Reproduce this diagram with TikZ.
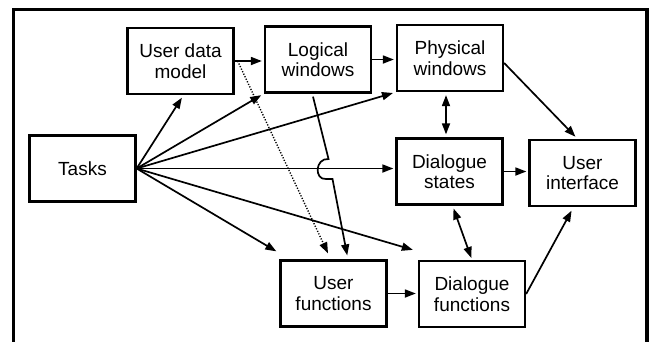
\documentclass[tikz,border=0pt]{standalone}
\usepackage{fontspec}
\setmainfont{Liberation Sans}
\usetikzlibrary{arrows.meta,calc}
\begin{document}
\begin{tikzpicture}[x=1pt,y=-1pt,
  box/.style={draw,line width=2.3pt,minimum width=106pt,minimum height=66pt,inner sep=0pt,align=center,font=\fontsize{19}{20.5}\selectfont},
  conn/.style={line width=1.7pt,-{Triangle[length=11pt,width=8pt]}},
  biconn/.style={line width=1.7pt,{Triangle[length=11pt,width=8pt]}-{Triangle[length=11pt,width=8pt]}},
  dotconn/.style={line width=1.4pt,dash pattern=on 1.2pt off 1.6pt,-{Triangle[length=11pt,width=8pt]}}]
\useasboundingbox (0,0) rectangle (654,341);
\draw[line width=3.3pt] (13.5,345) -- (13.5,9.5) -- (647,9.5) -- (647,345);
\node[box] (udm) at (180.5,61) {User data\\model};
\node[box] (lw) at (318,59.5) {Logical\\windows};
\node[box] (pw) at (450,58) {Physical\\windows};
\node[box] (tasks) at (82.5,168.5) {Tasks};
\node[box] (ds) at (449.5,171.5) {Dialogue\\states};
\node[box] (ui) at (582.5,173) {User\\interface};
\node[box] (uf) at (333.5,293.5) {User\\functions};
\node[box] (df) at (472,294) {Dialogue\\functions};
% from Tasks
\draw[conn,shorten >=3pt] (tasks.east) -- ([xshift=3pt]udm.south);
\draw[conn,shorten >=3pt] (tasks.east) -- (lw.south west);
\draw[conn,shorten >=3pt] (tasks.east) -- (pw.south west);
\draw[conn,shorten >=2pt] (tasks.east) -- (tasks.east -| ds.west);
\draw[conn] (tasks.east) -- ([xshift=-3pt,yshift=8pt]uf.north west);
\draw[conn] (tasks.east) -- ([xshift=-5pt,yshift=10pt]df.north west);
% top row
\draw[conn,shorten >=2pt] (udm.east) -- (udm.east -| lw.west);
\draw[conn,shorten >=2pt] (lw.east) -- (lw.east -| pw.west);
\draw[biconn,shorten >=3pt,shorten <=3pt] ([xshift=-4pt]pw.south) -- ([xshift=-4pt]pw.south |- ds.north);
\draw[conn,shorten >=3pt] ([yshift=-5pt]pw.east) -- ([xshift=-5pt]ui.north);
\draw[conn,shorten >=2pt] (ds.east) -- (ds.east -| ui.west);
\draw[biconn,shorten >=2pt,shorten <=3pt] ([xshift=3pt]ds.south) -- (df.north);
\draw[conn,shorten >=4pt] (df.east) -- ([xshift=-9pt]ui.south);
\draw[conn,shorten >=2pt] (uf.east) -- (uf.east -| df.west);
% logical windows to user functions with jump
\draw[conn,shorten >=4pt] ([xshift=-5pt,yshift=-3pt]lw.south) -- (328.5,159)
  .. controls (315,158) and (314,180) .. (326,179) -- (332.5,179)
  -- ([xshift=14.5pt]uf.north);
% dotted
\draw[dotconn] ([xshift=3pt]udm.east) -- ([xshift=-5.5pt,yshift=6pt]uf.north);
\end{tikzpicture}
\end{document}
